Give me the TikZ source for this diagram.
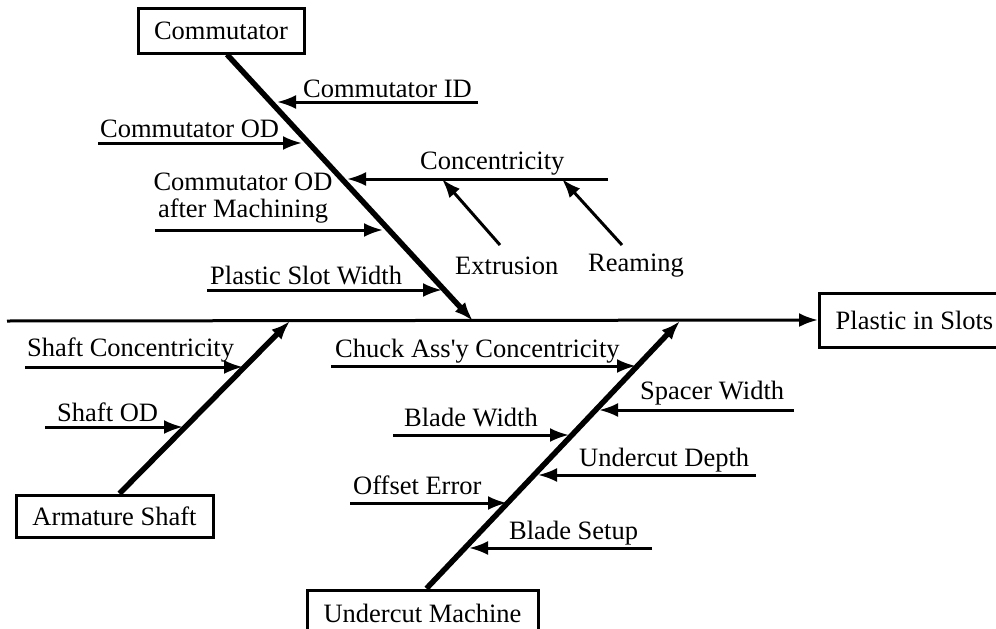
\documentclass[tikz,border=0pt]{standalone}
\usepackage{fontspec}
\setmainfont{Liberation Serif}
\usetikzlibrary{arrows.meta}

\begin{document}
\begin{tikzpicture}[x=1pt, y=-1pt,
			>={Latex[length=19pt,width=14pt]},   %Pfeilspitzen
			font=\fontsize{26.5}{27}\selectfont,
			box/.style={draw, line width=3pt, inner sep=0pt, minimum width=#1},
			bone/.style={->, line width=5.5pt},
			twig/.style={->, line width=3pt},
			lbl/.style={anchor=base west, inner sep=0pt}]
			\useasboundingbox (0,0) rectangle (996,629);
			%Kaesten
			\node[box=166pt, minimum height=45pt] (comm) at (221,30.5) {Commutator};
			\node[box=197pt, minimum height=42pt] (arm) at (114.5,516) {Armature Shaft};
			\node[box=231pt, minimum height=46pt] (uc) at (422.5,613) {Undercut Machine};
			\node[box=190pt, minimum height=54pt, anchor=west] (effect) at (818,320) {Plastic in Slots};
			%Hauptgraete
			\coordinate (tail) at (7,321);
			\draw[->, line width=3pt] (tail) -- (effect.west);
			%Graeten zur Hauptlinie
			\coordinate (commtip) at (473,321);
			\coordinate (armtip) at (290,321);
			\coordinate (uctip) at (680,321);
			\draw[bone] ([xshift=6pt]comm.south) -- (commtip);
			\draw[bone] ([xshift=5pt]arm.north) -- (armtip);
			\draw[bone] ([xshift=4pt]uc.north) -- (uctip);
			%kleine Pfeile: Name/Start/Ende/Hoehe
			\foreach \n/\a/\b/\y in {cid/478/277/102, cod/98/302/143, conc/608/347/179,
					codm/155/383/230, psw/207/442/290, sc/25/243/367, sod/45/183/427,
					chuck/331/636/366, spw/794/599/410, bw/393/569/435,
					ud/756/538/475, oe/350/507/503, bs/652/469/548}
				{\coordinate (\n-s) at (\a,\y);
				\coordinate (\n-e) at (\b,\y);
				\draw[twig] (\n-s) -- (\n-e);}
			%Pfeile auf Concentricity
			\coordinate (ext-s) at (500,245);
			\coordinate (ext-e) at (442,179);
			\coordinate (ream-s) at (622,245);
			\coordinate (ream-e) at (562,179);
			\draw[twig] (ext-s) -- (ext-e);
			\draw[twig] (ream-s) -- (ream-e);
			%Beschriftung
			\node[lbl] (cidl) at (303,97) {Commutator ID};
			\node[lbl] (codl) at (100,137) {Commutator OD};
			\node[lbl] (concl) at (420,169) {Concentricity};
			\node[align=center, inner sep=0pt] (codml) at (243,198) {Commutator OD\\after Machining};
			\node[lbl] (extl) at (455,274) {Extrusion};
			\node[lbl] (reaml) at (588,271) {Reaming};
			\node[lbl] (pswl) at (210,284) {Plastic Slot Width};
			\node[lbl] (scl) at (27,356) {Shaft Concentricity};
			\node[lbl] (sodl) at (57,421) {Shaft OD};
			\node[lbl] (chuckl) at (335,357) {Chuck Ass\textquotesingle y Concentricity};
			\node[lbl] (spwl) at (640,399) {Spacer Width};
			\node[lbl] (bwl) at (404,426) {Blade Width};
			\node[lbl] (udl) at (579,466) {Undercut Depth};
			\node[lbl] (oel) at (353,494) {Offset Error};
			\node[lbl] (bsl) at (509,539) {Blade Setup};
		\end{tikzpicture}
\end{document}
